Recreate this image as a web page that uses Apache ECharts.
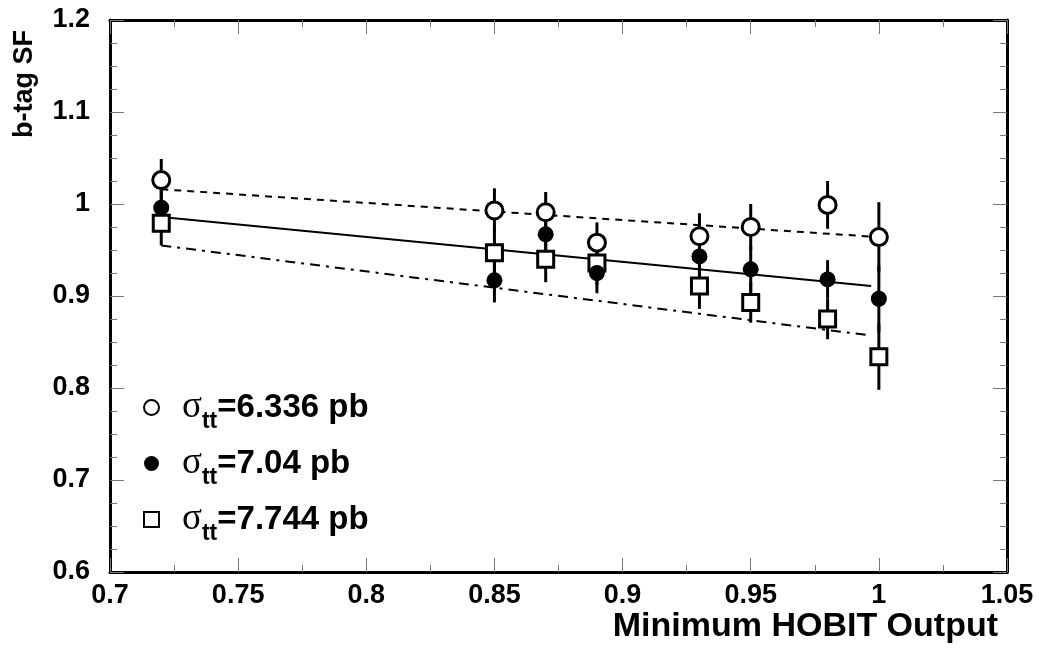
<!DOCTYPE html>
<html>
<head>
<meta charset="utf-8">
<script src="https://cdn.jsdelivr.net/npm/echarts@6/dist/echarts.min.js"></script>
<style>
  html, body { margin: 0; padding: 0; background: #fff; }
  #main { width: 1040px; height: 650px; }
</style>
</head>
<body>
<div id="main"></div>
<script>
// data
var cuts = [0.72, 0.85, 0.87, 0.89, 0.93, 0.95, 0.98, 1.0];

var sf6336 = [1.026, 0.993, 0.991, 0.958, 0.965, 0.975, 0.999, 0.964];
var err6336 = [0.023, 0.024, 0.022, 0.022, 0.025, 0.025, 0.026, 0.038];

var sf704 = [0.996, 0.917, 0.967, 0.925, 0.943, 0.929, 0.918, 0.897];
var err704 = [0.022, 0.024, 0.022, 0.022, 0.024, 0.025, 0.021, 0.036];

var sf7744 = [0.979, 0.947, 0.940, 0.936, 0.911, 0.893, 0.875, 0.834];
var err7744 = [0.024, 0.025, 0.025, 0.024, 0.025, 0.022, 0.022, 0.036];

// straight-line fits, [x, y] end points
var fit6336 = [[0.72, 1.016], [1.0, 0.964]];
var fit704 = [[0.72, 0.986], [0.997, 0.911]];
var fit7744 = [[0.72, 0.955], [0.997, 0.857]];

var names = ['6.336', '7.04', '7.744'];

function pts(ys) {
    return cuts.map(function (x, i) { return [x, ys[i]]; });
}
function bars(ys, es) {
    return cuts.map(function (x, i) { return [x, ys[i] - es[i], ys[i] + es[i]]; });
}

// vertical error bar drawn through the axis scales
function renderBar(params, api) {
    var lo = api.coord([api.value(0), api.value(1)]);
    var hi = api.coord([api.value(0), api.value(2)]);
    return {
        type: 'line',
        shape: { x1: lo[0], y1: lo[1], x2: hi[0], y2: hi[1] },
        style: { stroke: '#000', lineWidth: 3 }
    };
}

var font = 'Liberation Sans, Arial, sans-serif';

var myChart = echarts.init(document.getElementById('main'));
myChart.setOption({
    animation: false,
    backgroundColor: '#fff',
    grid: { left: 110, right: 33, top: 20, bottom: 78, containLabel: false, outerBoundsMode: 'none' },
    // x axis title, set under the axis at the right as in the original
    graphic: [{
        type: 'text',
        right: 42,
        top: 610,
        style: {
            text: 'Minimum HOBIT Output',
            font: 'bold 34px Liberation Sans, Arial, sans-serif',
            fill: '#000'
        }
    }],
    legend: {
        orient: 'vertical',
        left: 138,
        top: 384,
        itemGap: 12,
        itemWidth: 15,
        itemHeight: 15,
        itemStyle: { borderWidth: 2 },
        data: names,
        formatter: function (n) {
            return '{sig|\u03c3}{sub|tt}{val|=' + n + ' pb}';
        },
        textStyle: {
            rich: {
                sig: { fontFamily: 'Liberation Serif, serif', fontSize: 37, color: '#000', padding: [0, 0, 0, 18] },
                sub: { fontFamily: font, fontSize: 23, fontWeight: 'bold', color: '#000', padding: [28, 0, 0, 0] },
                val: { fontFamily: font, fontSize: 33, fontWeight: 'bold', color: '#000' }
            }
        }
    },
    xAxis: [
        {
            type: 'value', min: 0.7, max: 1.05, interval: 0.05,
            axisLine: { onZero: false, lineStyle: { color: '#000', width: 3 } },
            axisTick: { inside: true, length: 14, lineStyle: { color: '#777' } },
            minorTick: { show: true, splitNumber: 2, length: 7, lineStyle: { color: '#777' } },
            splitLine: { show: false },
            axisLabel: { margin: 10, fontFamily: font, fontSize: 27, fontWeight: 'bold', color: '#000' }
        },
        {
            type: 'value', min: 0.7, max: 1.05, interval: 0.05, position: 'top',
            axisLine: { onZero: false, lineStyle: { color: '#000', width: 3 } },
            axisTick: { inside: true, length: 14, lineStyle: { color: '#777' } },
            minorTick: { show: true, splitNumber: 2, length: 7, lineStyle: { color: '#777' } },
            splitLine: { show: false },
            axisLabel: { show: false }
        }
    ],
    yAxis: [
        {
            type: 'value', min: 0.6, max: 1.2, interval: 0.1,
            name: 'b-tag SF',
            nameLocation: 'end',
            nameRotate: 90,
            nameGap: 0,
            nameTextStyle: {
                fontFamily: font, fontSize: 27, fontWeight: 'bold', color: '#000',
                align: 'right', verticalAlign: 'bottom', padding: [0, 10, 72, 0]
            },
            axisLine: { onZero: false, lineStyle: { color: '#000', width: 3 } },
            axisTick: { inside: true, length: 14, lineStyle: { color: '#777' } },
            minorTick: { show: true, splitNumber: 4, length: 7, lineStyle: { color: '#777' } },
            splitLine: { show: false },
            axisLabel: { margin: 20, fontFamily: font, fontSize: 27, fontWeight: 'bold', color: '#000' }
        },
        {
            type: 'value', min: 0.6, max: 1.2, interval: 0.1, position: 'right',
            axisLine: { onZero: false, lineStyle: { color: '#000', width: 3 } },
            axisTick: { inside: true, length: 14, lineStyle: { color: '#777' } },
            minorTick: { show: true, splitNumber: 4, length: 7, lineStyle: { color: '#777' } },
            splitLine: { show: false },
            axisLabel: { show: false }
        }
    ],
    series: [
        { type: 'custom', renderItem: renderBar, data: bars(sf6336, err6336), z: 1 },
        { type: 'custom', renderItem: renderBar, data: bars(sf704, err704), z: 1 },
        { type: 'custom', renderItem: renderBar, data: bars(sf7744, err7744), z: 1 },
        {
            type: 'line', data: fit6336, symbol: 'none', z: 2,
            lineStyle: { color: '#000', width: 2, type: [7, 6] }
        },
        {
            type: 'line', data: fit704, symbol: 'none', z: 2,
            lineStyle: { color: '#000', width: 2 }
        },
        {
            type: 'line', data: fit7744, symbol: 'none', z: 2,
            lineStyle: { color: '#000', width: 2, type: [10, 6, 3, 6] }
        },
        {
            name: '6.336', type: 'scatter', data: pts(sf6336), symbol: 'circle', symbolSize: 17, z: 3,
            itemStyle: { color: '#fff', borderColor: '#000', borderWidth: 3, opacity: 1 }
        },
        {
            name: '7.04', type: 'scatter', data: pts(sf704), symbol: 'circle', symbolSize: 16, z: 4,
            itemStyle: { color: '#000', opacity: 1 }
        },
        {
            name: '7.744', type: 'scatter', data: pts(sf7744), symbol: 'rect', symbolSize: 16, z: 3,
            itemStyle: { color: '#fff', borderColor: '#000', borderWidth: 3, opacity: 1 }
        }
    ]
});
</script>
</body>
</html>
